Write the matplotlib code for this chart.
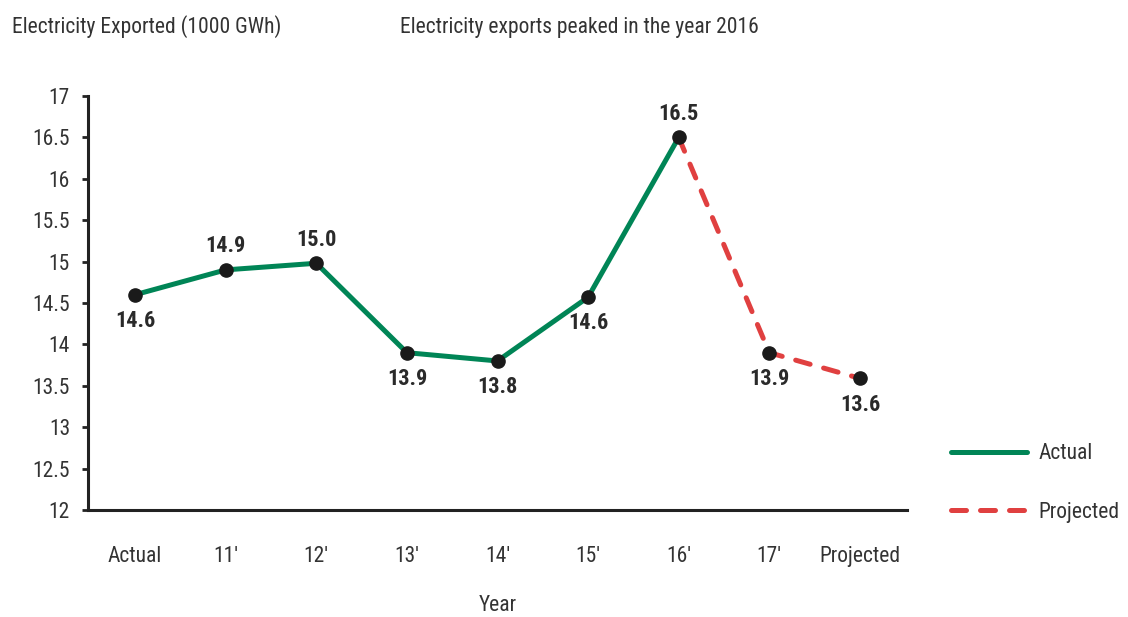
import matplotlib
matplotlib.use("Agg")
import matplotlib.pyplot as plt
from matplotlib import font_manager as fm
from matplotlib.lines import Line2D

categories = ["Actual", "11'", "12'", "13'", "14'", "15'", "16'", "17'", "Projected"]
values = [14.6, 14.9, 14.98, 13.9, 13.8, 14.57, 16.5, 13.9, 13.59]
labels = ["14.6", "14.9", "15.0", "13.9", "13.8", "14.6", "16.5", "13.9", "13.6"]
label_above = [False, True, True, False, False, False, True, False, False]
actual_idx = [0, 1, 2, 3, 4, 5, 6]
projected_idx = [6, 7, 8]
yticks = [12, 12.5, 13, 13.5, 14, 14.5, 15, 15.5, 16, 16.5, 17]
ytick_labels = ["12", "12.5", "13", "13.5", "14", "14.5", "15", "15.5", "16", "16.5", "17"]

names = {f.name for f in fm.fontManager.ttflist}
family = "DejaVu Sans"
stretch = "normal"
for cand in ["Roboto Condensed", "Liberation Sans Narrow", "Open Sans Condensed", "DejaVu Sans Condensed"]:
    if cand in names:
        family = cand
        break
else:
    if any(f.name == "DejaVu Sans" and f.stretch == "condensed" for f in fm.fontManager.ttflist):
        stretch = "condensed"

plt.rcParams["font.family"] = [family]
plt.rcParams["font.stretch"] = stretch

TXT = "#333333"
GREEN = "#008556"
RED = "#E04040"
FS = 15.5

fig = plt.figure(figsize=(11.28, 6.17), dpi=100)
ax = fig.add_axes([88/1128, 1-510/617, (907-88)/1128, (510-96)/617])

x = list(range(len(categories)))
ax.plot([x[i] for i in actual_idx], [values[i] for i in actual_idx], color=GREEN, lw=3.6,
        solid_capstyle="round", zorder=2)
ax.plot([x[i] for i in projected_idx], [values[i] for i in projected_idx], color=RED, lw=3.6,
        dashes=(3, 2.8), dash_capstyle="round", zorder=2)
ax.plot(x, values, "o", color="#1a1a1a", ms=9.5, zorder=3)

for xi, v, lab, up in zip(x, values, labels, label_above):
    ax.annotate(lab, (xi, v), xytext=(0, 9 if up else -11), textcoords="offset points",
                ha="center", va="bottom" if up else "top", fontsize=16, fontweight="bold",
                color="#2a2a2a")

ax.set_xlim(-0.52, 8.52)
ax.set_ylim(12, 17)
ax.set_yticks(yticks)
ax.set_yticklabels(ytick_labels)
ax.set_xticks(x)
ax.set_xticklabels(categories)
ax.tick_params(axis="x", length=0, pad=26, labelsize=FS, labelcolor=TXT)
ax.tick_params(axis="y", length=4, width=2, pad=9, labelsize=FS, labelcolor=TXT, color="#222222")
for s in ["top", "right"]:
    ax.spines[s].set_visible(False)
for s in ["left", "bottom"]:
    ax.spines[s].set_linewidth(2.2)
    ax.spines[s].set_color("#222222")
ax.set_xlabel("Year", fontsize=FS, color=TXT, labelpad=20)

fig.text(12/1128, 1-27/617, "Electricity Exported (1000 GWh)", fontsize=FS, color=TXT, va="center")
fig.text(400/1128, 1-27/617, "Electricity exports peaked in the year 2016", fontsize=FS, color=TXT, va="center")

handles = [Line2D([], [], color=GREEN, lw=3.6, solid_capstyle="round"),
           Line2D([], [], color=RED, lw=3.6, dashes=(3, 2.8), dash_capstyle="round")]
fig.legend(handles, ["Actual", "Projected"], loc="center left", bbox_to_anchor=(932/1128, 1-483/617),
           frameon=False, fontsize=FS, labelcolor=TXT, handlelength=3.5, labelspacing=1.75,
           handletextpad=0.55)

fig.savefig("out.png", dpi=100)
